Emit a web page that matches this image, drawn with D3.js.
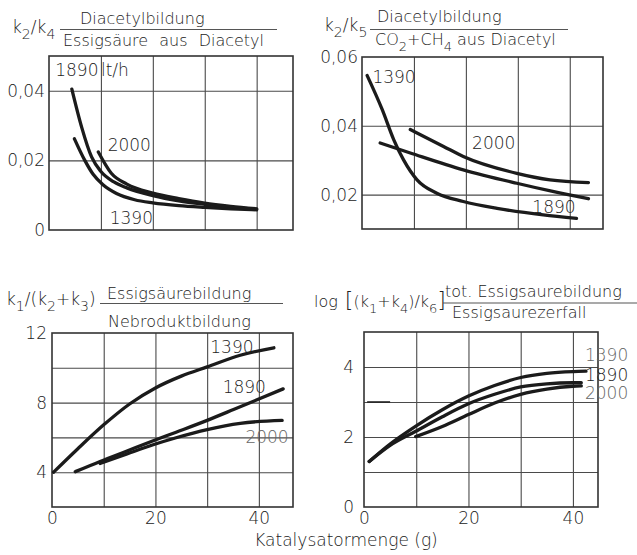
<!DOCTYPE html>
<html>
<head>
<meta charset="utf-8">
<script src="https://cdn.jsdelivr.net/npm/d3@7"></script>
<style>
  body { margin: 0; background: #fff; }
  svg { display: block; }
  text { font-family: "DejaVu Sans", sans-serif; font-weight: 200; fill: #222; }
</style>
</head>
<body>
<svg id="chart" width="637" height="555"></svg>
<script>
// Katalysatormenge (g) on every x axis
const gramGrid = [10, 20, 30, 40];
const gramTicks = [0, 20, 40];
const flows = ["1390", "1890", "2000"];

// k2/k4  Diacetylbildung / Essigsäure aus Diacetyl
const p1_1390 = [[4.9, 0.0262], [6.9, 0.020], [8.5, 0.016], [10.4, 0.013], [13, 0.0105], [16.5, 0.0087], [20, 0.0078], [25, 0.0070], [30, 0.0065], [35, 0.0061], [40, 0.0058]];
const p1_1890 = [[4.4, 0.0405], [6.3, 0.0295], [8.2, 0.021], [10, 0.0168], [12.5, 0.0138], [15, 0.0121], [20, 0.0099], [25, 0.0084], [30, 0.0074], [35, 0.0066], [40, 0.0060]];
const p1_2000 = [[9.5, 0.0224], [12, 0.0163], [15, 0.0132], [20, 0.0106], [25, 0.0090], [30, 0.0077], [35, 0.0068], [40, 0.0061]];
const p1YTicks = [0, 0.02, 0.04];
const p1YGrid = [0.02, 0.04];

// k2/k5  Diacetylbildung / CO2+CH4 aus Diacetyl
const p2_1390 = [[1, 0.0546], [3.9, 0.0447], [6.1, 0.036], [8, 0.0301], [10.6, 0.0243], [14.4, 0.0204], [19.5, 0.018], [26, 0.016], [34.9, 0.0141], [41.3, 0.0131]];
const p2_1890 = [[3.5, 0.035], [9.3, 0.0321], [19.5, 0.0272], [29.8, 0.0233], [36.5, 0.0210], [43.6, 0.0188]];
const p2_2000 = [[9.3, 0.0389], [15.7, 0.034], [19.5, 0.0311], [29.8, 0.0262], [36.2, 0.0243], [43.6, 0.0235]];
const p2YTicks = [0.02, 0.04, 0.06];
const p2YGrid = [0.02, 0.04];

// k1/(k2+k3)  Essigsäurebildung / Nebroduktbildung
const p3_1390 = [[0.3, 4.0], [5, 5.35], [10, 6.72], [15, 7.92], [20, 8.84], [25, 9.52], [30, 10.05], [36.4, 10.72], [42.9, 11.15]];
const p3_1890 = [[4.5, 4.03], [9.3, 4.62], [14.5, 5.22], [19.7, 5.82], [24, 6.3], [30, 6.98], [35.1, 7.6], [44.7, 8.79]];
const p3_2000 = [[9.3, 4.5], [14.5, 5.05], [19.7, 5.59], [24, 5.98], [30, 6.45], [36.4, 6.81], [44.5, 6.98]];
const p3YTicks = [4, 8, 12];
const p3YGrid = [4, 6, 8, 10];

// log[(k1+k4)/k6]  tot. Essigsaurebildung / Essigsaurezerfall
const p4_1390 = [[1, 1.3], [5, 1.8], [10, 2.32], [15, 2.78], [20, 3.17], [25, 3.47], [30, 3.7], [35, 3.82], [40, 3.87], [42.5, 3.88]];
const p4_1890 = [[1, 1.3], [5, 1.76], [10, 2.17], [15, 2.58], [20, 2.95], [25, 3.22], [30, 3.43], [35, 3.52], [40, 3.55], [41.6, 3.55]];
const p4_2000 = [[9.9, 2.01], [15, 2.30], [20, 2.64], [25, 2.97], [30, 3.22], [35, 3.37], [40, 3.45], [41.6, 3.46]];
const p4YTicks = [0, 2, 4];
const p4YGrid = [1, 2, 3, 4];

const de = d3.formatLocale({ decimal: ",", thousands: ".", grouping: [3], currency: ["", " €"] });
const fmt2 = de.format(".2f");
const fmtK = d => d === 0 ? "0" : fmt2(d);

const svg = d3.select("#chart");
const fs = 17;   // numbers
const ft = 16;   // titles

// text with subscripts: parts = [[string, "sub"|"big"?], ...]
function richText(x, y, parts, size) {
    const t = svg.append("text")
        .attr("x", x).attr("y", y)
        .style("font-size", size + "px");
    let shift = 0;
    parts.forEach(p => {
        const target = p[1] === "sub" ? Math.round(size * 0.38) : 0;
        const s = t.append("tspan").attr("dy", target - shift).text(p[0]);
        if (p[1] === "sub") s.style("font-size", Math.round(size * 0.8) + "px");
        if (p[1] === "big") s.style("font-size", Math.round(size * 1.35) + "px");
        shift = target;
    });
    return t;
}

function label(x, y, str, size, color) {
    return svg.append("text")
        .attr("x", x).attr("y", y)
        .style("font-size", size + "px")
        .style("fill", color || "#222")
        .text(str);
}

function panel(box, xMax, yDom, yGrid, yTicks, yFmt, series, showX) {
    const x = d3.scaleLinear().domain([0, xMax]).range([box.x0, box.x1]);
    const y = d3.scaleLinear().domain(yDom).range([box.y1, box.y0]);
    const h = box.y1 - box.y0, w = box.x1 - box.x0;

    // grid
    svg.append("g")
        .attr("transform", `translate(0,${box.y1})`)
        .call(d3.axisBottom(x).tickValues(gramGrid).tickSize(-h).tickFormat(""))
        .call(g => g.select(".domain").remove())
        .call(g => g.selectAll("line").attr("stroke", "#4a4a4a").attr("stroke-width", 1.1));
    svg.append("g")
        .attr("transform", `translate(${box.x0},0)`)
        .call(d3.axisLeft(y).tickValues(yGrid).tickSize(-w).tickFormat(""))
        .call(g => g.select(".domain").remove())
        .call(g => g.selectAll("line").attr("stroke", "#4a4a4a").attr("stroke-width", 1.1));

    // frame
    svg.append("rect")
        .attr("x", box.x0).attr("y", box.y0)
        .attr("width", w).attr("height", h)
        .attr("fill", "none").attr("stroke", "#333").attr("stroke-width", 1.6);

    // y tick labels
    svg.append("g")
        .attr("transform", `translate(${box.x0},0)`)
        .call(d3.axisLeft(y).tickValues(yTicks).tickSize(0).tickPadding(box.pad).tickFormat(yFmt))
        .call(g => g.select(".domain").remove())
        .call(g => g.selectAll("text").style("font-size", fs + "px").attr("fill", "#222"));

    if (showX) {
        svg.append("g")
            .attr("transform", `translate(0,${box.y1})`)
            .call(d3.axisBottom(x).tickValues(gramTicks).tickSize(0).tickPadding(5).tickFormat(d3.format("d")))
            .call(g => g.select(".domain").remove())
            .call(g => g.selectAll("text").style("font-size", fs + "px").attr("fill", "#222"));
    }

    const line = d3.line()
        .x(d => x(d[0]))
        .y(d => y(d[1]))
        .curve(d3.curveMonotoneX);

    series.forEach(s => {
        svg.append("path")
            .datum(s)
            .attr("fill", "none")
            .attr("stroke", "#1b1b1b")
            .attr("stroke-width", 3.3)
            .attr("stroke-linecap", "round")
            .attr("stroke-linejoin", "round")
            .attr("d", line);
    });
    return { x, y };
}

function fracLine(xa, xb, yy) {
    svg.append("line")
        .attr("x1", xa).attr("x2", xb).attr("y1", yy).attr("y2", yy)
        .attr("stroke", "#555").attr("stroke-width", 1.2);
}

// ---- panel 1
const s1 = panel({ x0: 49, x1: 293, y0: 56, y1: 230, pad: 4 }, 47, [0, 0.05], p1YGrid, p1YTicks, fmtK,
    [p1_1390, p1_1890, p1_2000], false);
richText(12, 33, [["k"], ["2", "sub"], ["/"], ["k"], ["4", "sub"]], fs);
label(80, 24, "Diacetylbildung", ft);
fracLine(60, 277, 29.5);
label(63, 46, "Essigsäure aus Diacetyl", ft).style("word-spacing", "6px");
label(s1.x(1.2), s1.y(0.0442), flows[1], fs);
label(s1.x(10), s1.y(0.0442), "lt/h", fs);
label(s1.x(11.3), s1.y(0.0226), flows[2], fs);
label(s1.x(11.7), s1.y(0.0017), flows[0], fs);

// ---- panel 2
const s2 = panel({ x0: 362, x1: 603, y0: 57, y1: 229, pad: 4 }, 46.4, [0.01, 0.06], p2YGrid, p2YTicks, fmtK,
    [p2_1390, p2_1890, p2_2000], false);
richText(324, 31, [["k"], ["2", "sub"], ["/"], ["k"], ["5", "sub"]], fs);
label(377, 22, "Diacetylbildung", ft);
fracLine(370, 568, 29.5);
richText(375, 45, [["CO"], ["2", "sub"], ["+CH"], ["4", "sub"], [" aus Diacetyl"]], ft);
label(s2.x(2), s2.y(0.0524), flows[0], fs);
label(s2.x(21.2), s2.y(0.0332), flows[2], fs);
label(s2.x(32.8), s2.y(0.0146), flows[1], fs);

// ---- panel 3
const s3 = panel({ x0: 52, x1: 293, y0: 333, y1: 507, pad: 5 }, 46.6, [2, 12], p3YGrid, p3YTicks, d3.format("d"),
    [p3_1390, p3_1890, p3_2000], true);
richText(6, 305, [["k"], ["1", "sub"], ["/(k"], ["2", "sub"], ["+k"], ["3", "sub"], [")"]], fs);
label(107, 299, "Essigsäurebildung", ft);
fracLine(100, 283, 303.5);
label(108, 327, "Nebroduktbildung", ft);
label(s3.x(30.6), s3.y(10.85), flows[0], fs);
label(s3.x(33), s3.y(8.55), flows[1], fs);
label(s3.x(37.4), s3.y(5.7), flows[2], fs, "#666");

// ---- panel 4
const s4 = panel({ x0: 364, x1: 598, y0: 332, y1: 507, pad: 10 }, 44.8, [0, 5], p4YGrid, p4YTicks, d3.format("d"),
    [p4_1390, p4_1890, p4_2000], true);
svg.append("line")
    .attr("x1", s4.x(0.6)).attr("x2", s4.x(5)).attr("y1", s4.y(3)).attr("y2", s4.y(3))
    .attr("stroke", "#222").attr("stroke-width", 1.6);
richText(314, 307, [["log"], [" [", "big"], ["(k"], ["1", "sub"], ["+k"], ["4", "sub"], [")/k"], ["6", "sub"], ["]", "big"]], ft);
label(445, 297, "tot. Essigsaurebildung", ft);
fracLine(443, 637, 303);
label(452, 318, "Essigsaurezerfall", ft);
label(s4.x(42.3), s4.y(4.18), flows[0], fs, "#666");
label(s4.x(42.3), s4.y(3.6), flows[1], fs);
label(s4.x(42.3), s4.y(3.08), flows[2], fs, "#666");

// shared x title
svg.append("text")
    .attr("x", 346).attr("y", 546)
    .attr("text-anchor", "middle")
    .style("font-size", fs + "px")
    .text("Katalysatormenge (g)");
</script>
</body>
</html>
